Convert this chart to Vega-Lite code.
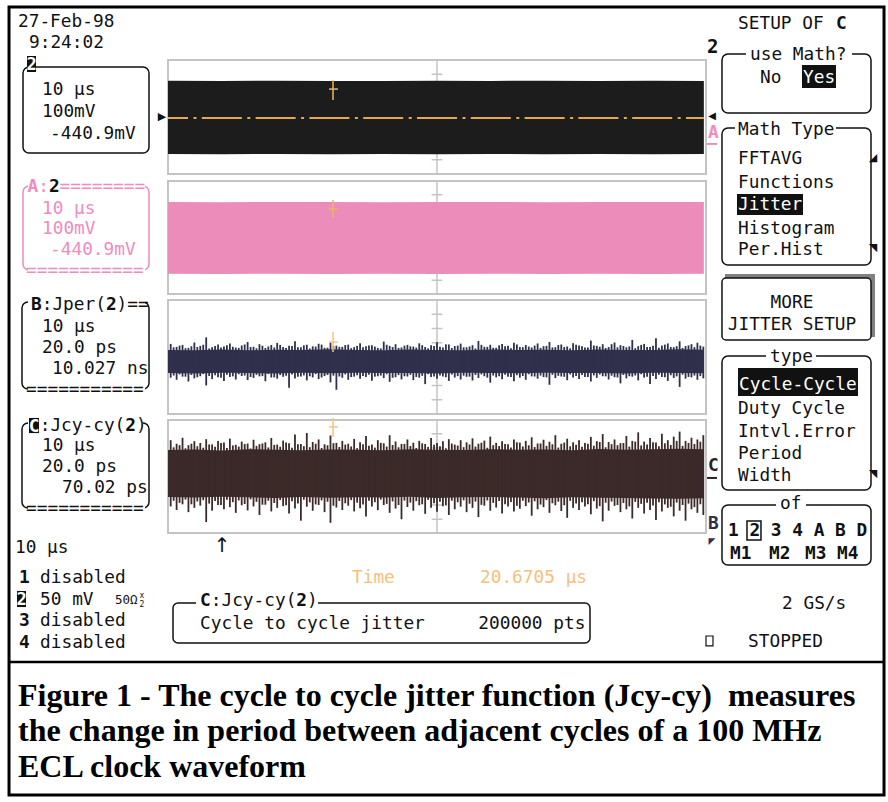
{
"$schema": "https://vega.github.io/schema/vega-lite/v6.json",
"width": 888, "height": 802,
"autosize": {"type": "fit", "contains": "padding"},
"padding": 0,
"background": "white",
"config": {"view": {"stroke": null}, "axis": {"disable": true},
  "text": {"font": "DejaVu Sans Mono", "fontSize": 17.8, "align": "left", "baseline": "middle", "color": "#111111", "dy": 1}},
"data": {"values": [{}]},
"datasets": {
  "ticks": [{"a": -3}, {"a": -2}, {"a": -1}, {"a": 1}, {"a": 2}, {"a": 3}],
  "clock": [{"t":0,"hi":2.54,"lo":-2.6},{"t":10,"hi":2.52,"lo":-2.62},{"t":20,"hi":2.55,"lo":-2.59},{"t":30,"hi":2.53,"lo":-2.61},{"t":40,"hi":2.52,"lo":-2.6},{"t":50,"hi":2.54,"lo":-2.62},{"t":60,"hi":2.53,"lo":-2.6},{"t":70,"hi":2.55,"lo":-2.61},{"t":80,"hi":2.52,"lo":-2.6},{"t":90,"hi":2.54,"lo":-2.62},{"t":99.6,"hi":2.53,"lo":-2.6}],
  "mathA": [{"t":0,"hi":2.49,"lo":-2.55},{"t":10,"hi":2.48,"lo":-2.56},{"t":20,"hi":2.5,"lo":-2.54},{"t":30,"hi":2.49,"lo":-2.56},{"t":40,"hi":2.48,"lo":-2.55},{"t":50,"hi":2.5,"lo":-2.56},{"t":60,"hi":2.49,"lo":-2.54},{"t":70,"hi":2.48,"lo":-2.56},{"t":80,"hi":2.5,"lo":-2.55},{"t":90,"hi":2.49,"lo":-2.56},{"t":99.6,"hi":2.5,"lo":-2.55}],
  "jperCore": [{"t":0,"hi":0.5,"lo":-1.12},{"t":5,"hi":0.48,"lo":-1.15},{"t":10,"hi":0.53,"lo":-1.1},{"t":15,"hi":0.47,"lo":-1.13},{"t":20,"hi":0.51,"lo":-1.16},{"t":25,"hi":0.49,"lo":-1.11},{"t":30,"hi":0.54,"lo":-1.14},{"t":35,"hi":0.5,"lo":-1.1},{"t":40,"hi":0.47,"lo":-1.13},{"t":45,"hi":0.52,"lo":-1.12},{"t":50,"hi":0.5,"lo":-1.15},{"t":55,"hi":0.48,"lo":-1.11},{"t":60,"hi":0.53,"lo":-1.13},{"t":65,"hi":0.49,"lo":-1.14},{"t":70,"hi":0.51,"lo":-1.1},{"t":75,"hi":0.47,"lo":-1.13},{"t":80,"hi":0.52,"lo":-1.12},{"t":85,"hi":0.5,"lo":-1.15},{"t":90,"hi":0.49,"lo":-1.11},{"t":95,"hi":0.54,"lo":-1.13},{"t":99.6,"hi":0.51,"lo":-1.14}],
  "jcyCore": [{"t":0,"hi":1.86,"lo":-1.44},{"t":5,"hi":1.9,"lo":-1.48},{"t":10,"hi":1.83,"lo":-1.42},{"t":15,"hi":1.92,"lo":-1.46},{"t":20,"hi":1.87,"lo":-1.5},{"t":25,"hi":1.85,"lo":-1.43},{"t":30,"hi":1.9,"lo":-1.49},{"t":35,"hi":1.88,"lo":-1.45},{"t":40,"hi":1.84,"lo":-1.47},{"t":45,"hi":1.91,"lo":-1.42},{"t":50,"hi":1.87,"lo":-1.5},{"t":55,"hi":1.86,"lo":-1.46},{"t":60,"hi":1.92,"lo":-1.44},{"t":65,"hi":1.88,"lo":-1.48},{"t":70,"hi":1.9,"lo":-1.52},{"t":75,"hi":1.85,"lo":-1.46},{"t":80,"hi":1.93,"lo":-1.49},{"t":85,"hi":1.88,"lo":-1.51},{"t":90,"hi":1.91,"lo":-1.54},{"t":95,"hi":1.95,"lo":-1.56},{"t":99.6,"hi":1.92,"lo":-1.53}],
  "jper": [
{"t":0.5,"hi":0.92,"lo":-1.45},{"t":1.6,"hi":0.71,"lo":-1.6},{"t":2.7,"hi":0.85,"lo":-1.38},{"t":3.8,"hi":0.64,"lo":-1.72},{"t":4.9,"hi":1.02,"lo":-1.5},{"t":6.0,"hi":0.78,"lo":-1.35},{"t":7.1,"hi":1.38,"lo":-2.0},{"t":8.2,"hi":0.69,"lo":-1.55},{"t":9.3,"hi":0.88,"lo":-1.42},{"t":10.4,"hi":0.74,"lo":-1.68},
{"t":11.5,"hi":0.95,"lo":-1.4},{"t":12.6,"hi":0.66,"lo":-1.58},{"t":13.7,"hi":0.81,"lo":-1.33},{"t":14.8,"hi":1.05,"lo":-1.62},{"t":15.9,"hi":0.72,"lo":-1.47},{"t":17.0,"hi":0.9,"lo":-1.36},{"t":18.1,"hi":0.63,"lo":-1.7},{"t":19.2,"hi":0.84,"lo":-1.44},{"t":20.3,"hi":0.99,"lo":-1.52},{"t":21.4,"hi":0.7,"lo":-1.39},
{"t":22.5,"hi":0.79,"lo":-2.15},{"t":23.6,"hi":1.1,"lo":-1.5},{"t":24.7,"hi":0.68,"lo":-1.37},{"t":25.8,"hi":0.86,"lo":-1.64},{"t":26.9,"hi":0.75,"lo":-1.43},{"t":28.0,"hi":0.93,"lo":-1.55},{"t":29.1,"hi":0.65,"lo":-1.34},{"t":30.2,"hi":1.0,"lo":-1.78},{"t":31.3,"hi":0.8,"lo":-2.3},{"t":32.4,"hi":0.71,"lo":-1.46},
{"t":33.5,"hi":0.87,"lo":-1.6},{"t":34.6,"hi":0.69,"lo":-1.38},{"t":35.7,"hi":0.97,"lo":-1.52},{"t":36.8,"hi":0.76,"lo":-1.4},{"t":37.9,"hi":0.83,"lo":-1.66},{"t":39.0,"hi":0.64,"lo":-1.35},{"t":40.1,"hi":1.08,"lo":-1.48},{"t":41.2,"hi":0.78,"lo":-1.74},{"t":42.3,"hi":0.9,"lo":-1.42},{"t":43.4,"hi":0.67,"lo":-1.57},
{"t":44.5,"hi":0.85,"lo":-1.37},{"t":45.6,"hi":0.73,"lo":-1.62},{"t":46.7,"hi":0.96,"lo":-1.45},{"t":47.8,"hi":0.7,"lo":-1.9},{"t":48.9,"hi":0.82,"lo":-1.4},{"t":50.0,"hi":1.03,"lo":-1.53},{"t":51.1,"hi":0.66,"lo":-1.36},{"t":52.2,"hi":0.88,"lo":-1.68},{"t":53.3,"hi":0.77,"lo":-1.44},{"t":54.4,"hi":0.94,"lo":-1.58},
{"t":55.5,"hi":0.68,"lo":-1.39},{"t":56.6,"hi":0.83,"lo":-1.65},{"t":57.7,"hi":1.12,"lo":-1.47},{"t":58.8,"hi":0.72,"lo":-1.35},{"t":59.9,"hi":0.86,"lo":-1.8},{"t":61.0,"hi":0.65,"lo":-1.43},{"t":62.1,"hi":0.91,"lo":-1.56},{"t":63.2,"hi":0.79,"lo":-1.38},{"t":64.3,"hi":1.0,"lo":-1.7},{"t":65.4,"hi":0.7,"lo":-1.45},
{"t":66.5,"hi":0.84,"lo":-1.6},{"t":67.6,"hi":0.67,"lo":-1.36},{"t":68.7,"hi":0.95,"lo":-1.52},{"t":69.8,"hi":0.76,"lo":-1.41},{"t":70.9,"hi":1.06,"lo":-1.95},{"t":72.0,"hi":0.69,"lo":-1.48},{"t":73.1,"hi":0.88,"lo":-1.37},{"t":74.2,"hi":0.74,"lo":-1.63},{"t":75.3,"hi":0.97,"lo":-1.44},{"t":76.4,"hi":0.81,"lo":-1.55},
{"t":77.5,"hi":0.66,"lo":-1.4},{"t":78.6,"hi":1.15,"lo":-1.72},{"t":79.7,"hi":0.78,"lo":-1.46},{"t":80.8,"hi":0.9,"lo":-1.35},{"t":81.9,"hi":0.7,"lo":-1.58},{"t":83.0,"hi":1.02,"lo":-1.42},{"t":84.1,"hi":0.83,"lo":-1.85},{"t":85.2,"hi":0.68,"lo":-1.5},{"t":86.3,"hi":1.2,"lo":-1.38},{"t":87.4,"hi":0.76,"lo":-1.64},
{"t":88.5,"hi":0.92,"lo":-1.45},{"t":89.6,"hi":0.71,"lo":-1.9},{"t":90.7,"hi":1.32,"lo":-1.55},{"t":91.8,"hi":0.8,"lo":-1.4},{"t":92.9,"hi":0.95,"lo":-1.68},{"t":94.0,"hi":0.69,"lo":-1.47},{"t":95.1,"hi":1.1,"lo":-2.1},{"t":96.2,"hi":0.77,"lo":-1.52},{"t":97.3,"hi":0.9,"lo":-1.43},{"t":98.4,"hi":1.0,"lo":-1.6},{"t":99.5,"hi":0.73,"lo":-1.5},
{"t":1.05,"hi":0.68,"lo":-1.3},{"t":2.15,"hi":0.8,"lo":-1.22},{"t":3.25,"hi":0.62,"lo":-1.38},{"t":4.35,"hi":0.75,"lo":-1.26},{"t":5.45,"hi":0.7,"lo":-1.42},{"t":6.55,"hi":0.86,"lo":-1.2},{"t":7.65,"hi":0.6,"lo":-1.33},{"t":8.75,"hi":0.78,"lo":-1.28},{"t":9.85,"hi":0.66,"lo":-1.45},{"t":10.95,"hi":0.83,"lo":-1.24},
{"t":12.05,"hi":0.72,"lo":-1.36},{"t":13.15,"hi":0.64,"lo":-1.21},{"t":14.25,"hi":0.88,"lo":-1.3},{"t":15.35,"hi":0.7,"lo":-1.4},{"t":16.45,"hi":0.61,"lo":-1.25},{"t":17.55,"hi":0.79,"lo":-1.34},{"t":18.65,"hi":0.74,"lo":-1.19},{"t":19.75,"hi":0.67,"lo":-1.43},{"t":20.85,"hi":0.85,"lo":-1.27},{"t":21.95,"hi":0.63,"lo":-1.32},
{"t":23.05,"hi":0.77,"lo":-1.23},{"t":24.15,"hi":0.69,"lo":-1.39},{"t":25.25,"hi":0.82,"lo":-1.29},{"t":26.35,"hi":0.6,"lo":-1.35},{"t":27.45,"hi":0.73,"lo":-1.2},{"t":28.55,"hi":0.87,"lo":-1.44},{"t":29.65,"hi":0.65,"lo":-1.26},{"t":30.75,"hi":0.76,"lo":-1.31},{"t":31.85,"hi":0.71,"lo":-1.37},{"t":32.95,"hi":0.84,"lo":-1.22},
{"t":34.05,"hi":0.62,"lo":-1.41},{"t":35.15,"hi":0.78,"lo":-1.28},{"t":36.25,"hi":0.68,"lo":-1.33},{"t":37.35,"hi":0.81,"lo":-1.24},{"t":38.45,"hi":0.73,"lo":-1.38},{"t":39.55,"hi":0.6,"lo":-1.3},{"t":40.65,"hi":0.86,"lo":-1.21},{"t":41.75,"hi":0.7,"lo":-1.46},{"t":42.85,"hi":0.64,"lo":-1.27},{"t":43.95,"hi":0.79,"lo":-1.35},
{"t":45.05,"hi":0.75,"lo":-1.25},{"t":46.15,"hi":0.66,"lo":-1.4},{"t":47.25,"hi":0.83,"lo":-1.32},{"t":48.35,"hi":0.61,"lo":-1.2},{"t":49.45,"hi":0.77,"lo":-1.36},{"t":50.55,"hi":0.72,"lo":-1.29},{"t":51.65,"hi":0.89,"lo":-1.42},{"t":52.75,"hi":0.63,"lo":-1.23},{"t":53.85,"hi":0.8,"lo":-1.34},{"t":54.95,"hi":0.68,"lo":-1.31},
{"t":56.05,"hi":0.74,"lo":-1.38},{"t":57.15,"hi":0.6,"lo":-1.26},{"t":58.25,"hi":0.85,"lo":-1.22},{"t":59.35,"hi":0.71,"lo":-1.45},{"t":60.45,"hi":0.65,"lo":-1.3},{"t":61.55,"hi":0.82,"lo":-1.35},{"t":62.65,"hi":0.76,"lo":-1.24},{"t":63.75,"hi":0.62,"lo":-1.4},{"t":64.85,"hi":0.88,"lo":-1.28},{"t":65.95,"hi":0.69,"lo":-1.33},
{"t":67.05,"hi":0.73,"lo":-1.21},{"t":68.15,"hi":0.8,"lo":-1.37},{"t":69.25,"hi":0.64,"lo":-1.3},{"t":70.35,"hi":0.78,"lo":-1.43},{"t":71.45,"hi":0.67,"lo":-1.25},{"t":72.55,"hi":0.84,"lo":-1.32},{"t":73.65,"hi":0.7,"lo":-1.39},{"t":74.75,"hi":0.61,"lo":-1.22},{"t":75.85,"hi":0.86,"lo":-1.34},{"t":76.95,"hi":0.75,"lo":-1.27},
{"t":78.05,"hi":0.66,"lo":-1.41},{"t":79.15,"hi":0.81,"lo":-1.29},{"t":80.25,"hi":0.72,"lo":-1.23},{"t":81.35,"hi":0.63,"lo":-1.36},{"t":82.45,"hi":0.9,"lo":-1.31},{"t":83.55,"hi":0.68,"lo":-1.44},{"t":84.65,"hi":0.77,"lo":-1.26},{"t":85.75,"hi":0.74,"lo":-1.35},{"t":86.85,"hi":0.62,"lo":-1.3},{"t":87.95,"hi":0.85,"lo":-1.21},
{"t":89.05,"hi":0.71,"lo":-1.38},{"t":90.15,"hi":0.79,"lo":-1.33},{"t":91.25,"hi":0.65,"lo":-1.25},{"t":92.35,"hi":0.87,"lo":-1.42},{"t":93.45,"hi":0.7,"lo":-1.28},{"t":94.55,"hi":0.76,"lo":-1.36},{"t":95.65,"hi":0.63,"lo":-1.24},{"t":96.75,"hi":0.82,"lo":-1.4},{"t":97.85,"hi":0.69,"lo":-1.3},{"t":98.95,"hi":0.8,"lo":-1.34}],
  "jcy": [
{"t":0.5,"hi":2.55,"lo":-2.1},{"t":1.6,"hi":2.3,"lo":-2.35},{"t":2.7,"hi":2.72,"lo":-1.95},{"t":3.8,"hi":2.2,"lo":-2.5},{"t":4.9,"hi":2.48,"lo":-2.2},{"t":6.0,"hi":2.35,"lo":-2.05},{"t":7.1,"hi":2.62,"lo":-3.2},{"t":8.2,"hi":2.25,"lo":-2.4},{"t":9.3,"hi":2.5,"lo":-2.0},{"t":10.4,"hi":2.38,"lo":-2.3},
{"t":11.5,"hi":2.66,"lo":-2.15},{"t":12.6,"hi":2.22,"lo":-2.55},{"t":13.7,"hi":2.45,"lo":-2.02},{"t":14.8,"hi":2.31,"lo":-2.38},{"t":15.9,"hi":2.58,"lo":-2.1},{"t":17.0,"hi":2.27,"lo":-2.7},{"t":18.1,"hi":2.4,"lo":-1.98},{"t":19.2,"hi":2.7,"lo":-2.45},{"t":20.3,"hi":2.24,"lo":-2.2},{"t":21.4,"hi":2.52,"lo":-2.08},
{"t":22.5,"hi":2.34,"lo":-2.6},{"t":23.6,"hi":2.95,"lo":-2.25},{"t":24.7,"hi":2.28,"lo":-3.1},{"t":25.8,"hi":3.05,"lo":-2.12},{"t":26.9,"hi":2.42,"lo":-2.4},{"t":28.0,"hi":2.6,"lo":-2.0},{"t":29.1,"hi":2.26,"lo":-2.5},{"t":30.2,"hi":2.88,"lo":-3.25},{"t":31.3,"hi":2.36,"lo":-2.18},{"t":32.4,"hi":2.5,"lo":-2.35},
{"t":33.5,"hi":2.3,"lo":-2.05},{"t":34.6,"hi":2.64,"lo":-2.45},{"t":35.7,"hi":2.4,"lo":-2.22},{"t":36.8,"hi":2.85,"lo":-2.8},{"t":37.9,"hi":2.25,"lo":-2.1},{"t":39.0,"hi":2.55,"lo":-2.36},{"t":40.1,"hi":2.33,"lo":-2.0},{"t":41.2,"hi":2.9,"lo":-2.55},{"t":42.3,"hi":2.46,"lo":-2.25},{"t":43.4,"hi":2.29,"lo":-3.0},
{"t":44.5,"hi":2.6,"lo":-2.14},{"t":45.6,"hi":2.37,"lo":-2.4},{"t":46.7,"hi":2.5,"lo":-2.02},{"t":47.8,"hi":2.28,"lo":-2.62},{"t":48.9,"hi":2.7,"lo":-2.2},{"t":50.0,"hi":2.35,"lo":-2.48},{"t":51.1,"hi":2.48,"lo":-2.08},{"t":52.2,"hi":2.62,"lo":-2.7},{"t":53.3,"hi":2.24,"lo":-2.3},{"t":54.4,"hi":2.55,"lo":-2.12},
{"t":55.5,"hi":2.4,"lo":-2.5},{"t":56.6,"hi":2.68,"lo":-2.2},{"t":57.7,"hi":2.3,"lo":-2.85},{"t":58.8,"hi":2.52,"lo":-2.05},{"t":59.9,"hi":2.8,"lo":-2.4},{"t":61.0,"hi":2.36,"lo":-2.18},{"t":62.1,"hi":2.47,"lo":-2.6},{"t":63.2,"hi":2.27,"lo":-2.1},{"t":64.3,"hi":2.6,"lo":-2.45},{"t":65.4,"hi":2.38,"lo":-2.26},
{"t":66.5,"hi":2.5,"lo":-2.08},{"t":67.6,"hi":2.75,"lo":-2.75},{"t":68.7,"hi":2.32,"lo":-2.3},{"t":69.8,"hi":2.58,"lo":-2.15},{"t":70.9,"hi":2.44,"lo":-2.55},{"t":72.0,"hi":2.9,"lo":-2.02},{"t":73.1,"hi":2.3,"lo":-2.42},{"t":74.2,"hi":2.65,"lo":-2.9},{"t":75.3,"hi":2.4,"lo":-2.2},{"t":76.4,"hi":2.55,"lo":-2.35},
{"t":77.5,"hi":2.35,"lo":-2.1},{"t":78.6,"hi":2.78,"lo":-2.65},{"t":79.7,"hi":2.48,"lo":-2.25},{"t":80.8,"hi":2.98,"lo":-3.15},{"t":81.9,"hi":2.42,"lo":-2.4},{"t":83.0,"hi":2.6,"lo":-2.06},{"t":84.1,"hi":2.34,"lo":-2.5},{"t":85.2,"hi":2.85,"lo":-2.3},{"t":86.3,"hi":2.5,"lo":-2.95},{"t":87.4,"hi":3.1,"lo":-2.2},
{"t":88.5,"hi":2.45,"lo":-2.6},{"t":89.6,"hi":2.7,"lo":-2.35},{"t":90.7,"hi":2.38,"lo":-3.05},{"t":91.8,"hi":3.0,"lo":-2.45},{"t":92.9,"hi":2.55,"lo":-2.2},{"t":94.0,"hi":2.8,"lo":-2.8},{"t":95.1,"hi":3.15,"lo":-2.4},{"t":96.2,"hi":2.5,"lo":-3.1},{"t":97.3,"hi":2.72,"lo":-2.3},{"t":98.4,"hi":2.6,"lo":-2.55},{"t":99.5,"hi":2.9,"lo":-2.7},
{"t":1.05,"hi":2.05,"lo":-1.7},{"t":2.15,"hi":2.2,"lo":-1.85},{"t":3.25,"hi":1.98,"lo":-1.62},{"t":4.35,"hi":2.3,"lo":-1.95},{"t":5.45,"hi":2.12,"lo":-1.75},{"t":6.55,"hi":2.02,"lo":-1.66},{"t":7.65,"hi":2.25,"lo":-1.9},{"t":8.75,"hi":2.08,"lo":-1.72},{"t":9.85,"hi":2.35,"lo":-2.0},{"t":10.95,"hi":2.0,"lo":-1.64},
{"t":12.05,"hi":2.18,"lo":-1.8},{"t":13.15,"hi":2.1,"lo":-1.68},{"t":14.25,"hi":2.28,"lo":-1.93},{"t":15.35,"hi":1.97,"lo":-1.6},{"t":16.45,"hi":2.15,"lo":-1.78},{"t":17.55,"hi":2.32,"lo":-1.98},{"t":18.65,"hi":2.04,"lo":-1.7},{"t":19.75,"hi":2.22,"lo":-1.86},{"t":20.85,"hi":2.09,"lo":-1.65},{"t":21.95,"hi":2.38,"lo":-2.02},
{"t":23.05,"hi":2.01,"lo":-1.74},{"t":24.15,"hi":2.26,"lo":-1.9},{"t":25.25,"hi":2.13,"lo":-1.63},{"t":26.35,"hi":2.06,"lo":-1.82},{"t":27.45,"hi":2.3,"lo":-1.96},{"t":28.55,"hi":2.0,"lo":-1.68},{"t":29.65,"hi":2.19,"lo":-1.77},{"t":30.75,"hi":2.34,"lo":-2.05},{"t":31.85,"hi":2.07,"lo":-1.72},{"t":32.95,"hi":2.24,"lo":-1.88},
{"t":34.05,"hi":2.11,"lo":-1.66},{"t":35.15,"hi":1.99,"lo":-1.84},{"t":36.25,"hi":2.27,"lo":-1.97},{"t":37.35,"hi":2.16,"lo":-1.7},{"t":38.45,"hi":2.03,"lo":-1.8},{"t":39.55,"hi":2.36,"lo":-1.62},{"t":40.65,"hi":2.1,"lo":-1.92},{"t":41.75,"hi":2.21,"lo":-1.75},{"t":42.85,"hi":2.05,"lo":-2.0},{"t":43.95,"hi":2.29,"lo":-1.69},
{"t":45.05,"hi":2.14,"lo":-1.83},{"t":46.15,"hi":2.0,"lo":-1.73},{"t":47.25,"hi":2.33,"lo":-1.95},{"t":48.35,"hi":2.08,"lo":-1.64},{"t":49.45,"hi":2.23,"lo":-1.87},{"t":50.55,"hi":2.12,"lo":-1.78},{"t":51.65,"hi":1.98,"lo":-2.03},{"t":52.75,"hi":2.31,"lo":-1.7},{"t":53.85,"hi":2.17,"lo":-1.81},{"t":54.95,"hi":2.06,"lo":-1.67},
{"t":56.05,"hi":2.25,"lo":-1.91},{"t":57.15,"hi":2.1,"lo":-1.76},{"t":58.25,"hi":2.37,"lo":-1.99},{"t":59.35,"hi":2.02,"lo":-1.68},{"t":60.45,"hi":2.2,"lo":-1.85},{"t":61.55,"hi":2.14,"lo":-1.72},{"t":62.65,"hi":2.28,"lo":-1.94},{"t":63.75,"hi":2.04,"lo":-1.79},{"t":64.85,"hi":2.4,"lo":-2.06},{"t":65.95,"hi":2.11,"lo":-1.7},
{"t":67.05,"hi":2.19,"lo":-1.82},{"t":68.15,"hi":2.07,"lo":-1.74},{"t":69.25,"hi":2.32,"lo":-1.97},{"t":70.35,"hi":2.15,"lo":-1.66},{"t":71.45,"hi":2.26,"lo":-1.88},{"t":72.55,"hi":2.03,"lo":-1.77},{"t":73.65,"hi":2.38,"lo":-2.02},{"t":74.75,"hi":2.12,"lo":-1.71},{"t":75.85,"hi":2.22,"lo":-1.9},{"t":76.95,"hi":2.09,"lo":-1.8},
{"t":78.05,"hi":2.3,"lo":-1.95},{"t":79.15,"hi":2.16,"lo":-1.73},{"t":80.25,"hi":2.42,"lo":-2.08},{"t":81.35,"hi":2.05,"lo":-1.84},{"t":82.45,"hi":2.27,"lo":-1.76},{"t":83.55,"hi":2.2,"lo":-2.0},{"t":84.65,"hi":2.35,"lo":-1.86},{"t":85.75,"hi":2.1,"lo":-2.1},{"t":86.85,"hi":2.45,"lo":-1.78},{"t":87.95,"hi":2.18,"lo":-1.92},
{"t":89.05,"hi":2.24,"lo":-1.85},{"t":90.15,"hi":2.4,"lo":-2.04},{"t":91.25,"hi":2.13,"lo":-1.8},{"t":92.35,"hi":2.33,"lo":-1.96},{"t":93.45,"hi":2.21,"lo":-2.12},{"t":94.55,"hi":2.5,"lo":-1.83},{"t":95.65,"hi":2.15,"lo":-2.0},{"t":96.75,"hi":2.36,"lo":-1.9},{"t":97.85,"hi":2.28,"lo":-2.15},{"t":98.95,"hi":2.44,"lo":-1.95}]
},
"layer": [
 {"layer": [
  {"mark": {"type": "rect", "fill": "transparent", "stroke": "#000", "strokeWidth": 3}, "encoding": {"x": {"datum": -29.55, "scale": {"domain": [-31.227, 133.829], "nice": false, "zero": false}}, "x2": {"datum": 133.09}, "y": {"datum": -3.72, "scale": {"domain": [-4.2105, 52.0702], "nice": false, "zero": false, "reverse": true}}, "y2": {"datum": 51.58}}},
  {"mark": {"type": "rule", "color": "#000", "strokeWidth": 2.5}, "encoding": {"x": {"datum": -29.55}, "x2": {"datum": 133.09}, "y": {"datum": 42.25}}},
  {"mark": {"type": "rect", "fill": "transparent", "stroke": "#c4c4c4", "strokeWidth": 2}, "encoding": {"x": {"datum": 0}, "x2": {"datum": 100}, "y": {"datum": 0}, "y2": {"datum": 8}}},
  {"mark": {"type": "rect", "fill": "transparent", "stroke": "#c4c4c4", "strokeWidth": 2}, "encoding": {"x": {"datum": 0}, "x2": {"datum": 100}, "y": {"datum": 8.49}, "y2": {"datum": 16.42}}},
  {"mark": {"type": "rect", "fill": "transparent", "stroke": "#c4c4c4", "strokeWidth": 2}, "encoding": {"x": {"datum": 0}, "x2": {"datum": 100}, "y": {"datum": 16.84}, "y2": {"datum": 24.84}}},
  {"mark": {"type": "rect", "fill": "transparent", "stroke": "#c4c4c4", "strokeWidth": 2}, "encoding": {"x": {"datum": 0}, "x2": {"datum": 100}, "y": {"datum": 25.26}, "y2": {"datum": 33.19}}},
  {"mark": {"type": "rule", "color": "#c4c4c4", "strokeWidth": 1.5}, "encoding": {"x": {"datum": 50}, "y": {"datum": 0}, "y2": {"datum": 8}}},
  {"mark": {"type": "rule", "color": "#c4c4c4", "strokeWidth": 1.5}, "encoding": {"x": {"datum": 50}, "y": {"datum": 8.49}, "y2": {"datum": 16.42}}},
  {"mark": {"type": "rule", "color": "#c4c4c4", "strokeWidth": 1.5}, "encoding": {"x": {"datum": 50}, "y": {"datum": 16.84}, "y2": {"datum": 24.84}}},
  {"mark": {"type": "rule", "color": "#c4c4c4", "strokeWidth": 1.5}, "encoding": {"x": {"datum": 50}, "y": {"datum": 25.26}, "y2": {"datum": 33.19}}},

  {"mark": {"type": "text", "text": "27-Feb-98"}, "encoding": {"x": {"datum": -27.88}, "y": {"datum": -2.74}}},
  {"mark": {"type": "text", "text": "9:24:02"}, "encoding": {"x": {"datum": -25.84}, "y": {"datum": -1.26}}},

  {"mark": {"type": "rect", "fill": "transparent", "stroke": "#111", "strokeWidth": 1.5, "cornerRadius": 6}, "encoding": {"x": {"datum": -26.95}, "x2": {"datum": -3.53}, "y": {"datum": 0.49}, "y2": {"datum": 6.53}}},
  {"mark": {"type": "rect", "fill": "#111", "strokeWidth": 0}, "encoding": {"x": {"datum": -26.21}, "x2": {"datum": -24.54}, "y": {"datum": -0.28}, "y2": {"datum": 0.84}}},
  {"mark": {"type": "text", "text": "2", "color": "white", "fontWeight": "bold", "align": "center", "fontSize": 17}, "encoding": {"x": {"datum": -25.37}, "y": {"datum": 0.28}}},
  {"mark": {"type": "text", "text": "10 μs"}, "encoding": {"x": {"datum": -23.42}, "y": {"datum": 2.04}}},
  {"mark": {"type": "text", "text": "100mV"}, "encoding": {"x": {"datum": -23.42}, "y": {"datum": 3.58}}},
  {"mark": {"type": "text", "text": "-440.9mV"}, "encoding": {"x": {"datum": -21.93}, "y": {"datum": 5.12}}},

  {"mark": {"type": "rect", "fill": "transparent", "stroke": "#ef8cbf", "strokeWidth": 1.5, "cornerRadius": 6}, "encoding": {"x": {"datum": -26.95}, "x2": {"datum": -3.53}, "y": {"datum": 8.84}, "y2": {"datum": 14.74}}},
  {"mark": {"type": "rect", "fill": "white", "strokeWidth": 0}, "encoding": {"x": {"datum": -26.02}, "x2": {"datum": -4.28}, "y": {"datum": 8.42}, "y2": {"datum": 9.26}}},
  {"mark": {"type": "rect", "fill": "white", "strokeWidth": 0}, "encoding": {"x": {"datum": -26.02}, "x2": {"datum": -4.28}, "y": {"datum": 14.25}, "y2": {"datum": 15.16}}},
  {"mark": {"type": "text", "text": "A", "color": "#ef8cbf", "fontWeight": "bold"}, "encoding": {"x": {"datum": -26.12}, "y": {"datum": 8.84}}},
  {"mark": {"type": "text", "text": ":", "color": "#ef8cbf"}, "encoding": {"x": {"datum": -24.13}, "y": {"datum": 8.84}}},
  {"mark": {"type": "text", "text": "2", "fontWeight": "bold"}, "encoding": {"x": {"datum": -22.14}, "y": {"datum": 8.84}}},
  {"mark": {"type": "text", "text": "========", "color": "#ef8cbf"}, "encoding": {"x": {"datum": -20.15}, "y": {"datum": 8.84}}},
  {"mark": {"type": "text", "text": "10 μs", "color": "#ef8cbf"}, "encoding": {"x": {"datum": -23.42}, "y": {"datum": 10.39}}},
  {"mark": {"type": "text", "text": "100mV", "color": "#ef8cbf"}, "encoding": {"x": {"datum": -23.42}, "y": {"datum": 11.79}}},
  {"mark": {"type": "text", "text": "-440.9mV", "color": "#ef8cbf"}, "encoding": {"x": {"datum": -21.93}, "y": {"datum": 13.26}}},
  {"mark": {"type": "text", "text": "===========", "color": "#ef8cbf"}, "encoding": {"x": {"datum": -26.39}, "y": {"datum": 14.74}}},

  {"mark": {"type": "rect", "fill": "transparent", "stroke": "#111", "strokeWidth": 1.5, "cornerRadius": 6}, "encoding": {"x": {"datum": -27.14}, "x2": {"datum": -3.53}, "y": {"datum": 16.98}, "y2": {"datum": 23.09}}},
  {"mark": {"type": "rect", "fill": "white", "strokeWidth": 0}, "encoding": {"x": {"datum": -26.02}, "x2": {"datum": -4.28}, "y": {"datum": 16.63}, "y2": {"datum": 17.54}}},
  {"mark": {"type": "rect", "fill": "white", "strokeWidth": 0}, "encoding": {"x": {"datum": -26.02}, "x2": {"datum": -4.28}, "y": {"datum": 22.67}, "y2": {"datum": 23.51}}},
  {"mark": {"type": "text", "text": "B", "fontWeight": "bold"}, "encoding": {"x": {"datum": -25.46}, "y": {"datum": 17.12}}},
  {"mark": {"type": "text", "text": ":Jper("}, "encoding": {"x": {"datum": -23.48}, "y": {"datum": 17.12}}},
  {"mark": {"type": "text", "text": "2", "fontWeight": "bold"}, "encoding": {"x": {"datum": -11.54}, "y": {"datum": 17.12}}},
  {"mark": {"type": "text", "text": ")=="}, "encoding": {"x": {"datum": -9.55}, "y": {"datum": 17.12}}},
  {"mark": {"type": "text", "text": "10 μs"}, "encoding": {"x": {"datum": -23.42}, "y": {"datum": 18.67}}},
  {"mark": {"type": "text", "text": "20.0 ps"}, "encoding": {"x": {"datum": -23.42}, "y": {"datum": 20.14}}},
  {"mark": {"type": "text", "text": "10.027 ns"}, "encoding": {"x": {"datum": -21.56}, "y": {"datum": 21.61}}},
  {"mark": {"type": "text", "text": "==========="}, "encoding": {"x": {"datum": -26.39}, "y": {"datum": 23.09}}},

  {"mark": {"type": "rect", "fill": "transparent", "stroke": "#111", "strokeWidth": 1.5, "cornerRadius": 6}, "encoding": {"x": {"datum": -27.14}, "x2": {"datum": -3.53}, "y": {"datum": 25.47}, "y2": {"datum": 31.44}}},
  {"mark": {"type": "rect", "fill": "white", "strokeWidth": 0}, "encoding": {"x": {"datum": -26.02}, "x2": {"datum": -4.65}, "y": {"datum": 25.05}, "y2": {"datum": 25.96}}},
  {"mark": {"type": "rect", "fill": "white", "strokeWidth": 0}, "encoding": {"x": {"datum": -26.02}, "x2": {"datum": -4.28}, "y": {"datum": 31.02}, "y2": {"datum": 31.86}}},
  {"mark": {"type": "rect", "fill": "#111", "strokeWidth": 0}, "encoding": {"x": {"datum": -25.84}, "x2": {"datum": -23.98}, "y": {"datum": 25.12}, "y2": {"datum": 26.18}}},
  {"mark": {"type": "text", "text": "C", "color": "white", "fontWeight": "bold", "align": "center"}, "encoding": {"x": {"datum": -24.91}, "y": {"datum": 25.65}}},
  {"mark": {"type": "text", "text": ":Jcy-cy("}, "encoding": {"x": {"datum": -23.85}, "y": {"datum": 25.61}}},
  {"mark": {"type": "text", "text": "2", "fontWeight": "bold"}, "encoding": {"x": {"datum": -7.94}, "y": {"datum": 25.61}}},
  {"mark": {"type": "text", "text": ")"}, "encoding": {"x": {"datum": -5.95}, "y": {"datum": 25.61}}},
  {"mark": {"type": "text", "text": "10 μs"}, "encoding": {"x": {"datum": -23.42}, "y": {"datum": 27.02}}},
  {"mark": {"type": "text", "text": "20.0 ps"}, "encoding": {"x": {"datum": -23.42}, "y": {"datum": 28.49}}},
  {"mark": {"type": "text", "text": "70.02 ps"}, "encoding": {"x": {"datum": -19.70}, "y": {"datum": 29.96}}},
  {"mark": {"type": "text", "text": "==========="}, "encoding": {"x": {"datum": -26.39}, "y": {"datum": 31.44}}},

  {"mark": {"type": "text", "text": "10 μs"}, "encoding": {"x": {"datum": -28.44}, "y": {"datum": 34.18}}},
  {"mark": {"type": "text", "text": "↑", "align": "center", "font": "DejaVu Sans", "fontSize": 20}, "encoding": {"x": {"datum": 10.04}, "y": {"datum": 34.04}}},

  {"mark": {"type": "text", "text": "1", "fontWeight": "bold"}, "encoding": {"x": {"datum": -27.70}, "y": {"datum": 36.28}}},
  {"mark": {"type": "text", "text": "disabled"}, "encoding": {"x": {"datum": -23.79}, "y": {"datum": 36.28}}},
  {"mark": {"type": "rect", "fill": "#111", "strokeWidth": 0}, "encoding": {"x": {"datum": -28.07}, "x2": {"datum": -26.39}, "y": {"datum": 37.26}, "y2": {"datum": 38.39}}},
  {"mark": {"type": "text", "text": "2", "color": "white", "fontWeight": "bold", "align": "center", "fontSize": 17}, "encoding": {"x": {"datum": -27.23}, "y": {"datum": 37.82}}},
  {"mark": {"type": "text", "text": "50 mV"}, "encoding": {"x": {"datum": -23.79}, "y": {"datum": 37.82}}},
  {"mark": {"type": "text", "text": "50Ω", "fontSize": 12.5}, "encoding": {"x": {"datum": -9.85}, "y": {"datum": 37.82}}},
  {"mark": {"type": "text", "text": "x", "fontSize": 8, "align": "center"}, "encoding": {"x": {"datum": -4.83}, "y": {"datum": 37.54}}},
  {"mark": {"type": "text", "text": "2", "fontSize": 8, "align": "center"}, "encoding": {"x": {"datum": -4.83}, "y": {"datum": 38.18}}},
  {"mark": {"type": "text", "text": "3", "fontWeight": "bold"}, "encoding": {"x": {"datum": -27.70}, "y": {"datum": 39.30}}},
  {"mark": {"type": "text", "text": "disabled"}, "encoding": {"x": {"datum": -23.79}, "y": {"datum": 39.30}}},
  {"mark": {"type": "text", "text": "4", "fontWeight": "bold"}, "encoding": {"x": {"datum": -27.70}, "y": {"datum": 40.84}}},
  {"mark": {"type": "text", "text": "disabled"}, "encoding": {"x": {"datum": -23.79}, "y": {"datum": 40.84}}},

  {"mark": {"type": "rect", "fill": "transparent", "stroke": "#111", "strokeWidth": 1.5, "cornerRadius": 5}, "encoding": {"x": {"datum": 0.93}, "x2": {"datum": 78.44}, "y": {"datum": 38.11}, "y2": {"datum": 40.91}}},
  {"mark": {"type": "rect", "fill": "white", "strokeWidth": 0}, "encoding": {"x": {"datum": 5.20}, "x2": {"datum": 27.88}, "y": {"datum": 37.54}, "y2": {"datum": 38.67}}},
  {"mark": {"type": "text", "text": "C", "fontWeight": "bold"}, "encoding": {"x": {"datum": 5.95}, "y": {"datum": 37.89}}},
  {"mark": {"type": "text", "text": ":Jcy-cy("}, "encoding": {"x": {"datum": 7.94}, "y": {"datum": 37.89}}},
  {"mark": {"type": "text", "text": "2", "fontWeight": "bold"}, "encoding": {"x": {"datum": 23.85}, "y": {"datum": 37.89}}},
  {"mark": {"type": "text", "text": ")"}, "encoding": {"x": {"datum": 25.84}, "y": {"datum": 37.89}}},
  {"mark": {"type": "text", "text": "Cycle to cycle jitter\u00a0\u00a0\u00a0\u00a0\u00a0200000 pts"}, "encoding": {"x": {"datum": 5.95}, "y": {"datum": 39.51}}},
  {"mark": {"type": "text", "text": "Time", "color": "#f5c07c"}, "encoding": {"x": {"datum": 34.20}, "y": {"datum": 36.28}}},
  {"mark": {"type": "text", "text": "20.6705 μs", "color": "#f5c07c"}, "encoding": {"x": {"datum": 57.99}, "y": {"datum": 36.28}}},

  {"mark": {"type": "text", "text": "SETUP OF"}, "encoding": {"x": {"datum": 105.95}, "y": {"datum": -2.60}}},
  {"mark": {"type": "text", "text": "C", "fontWeight": "bold"}, "encoding": {"x": {"datum": 124.16}, "y": {"datum": -2.60}}},
  {"mark": {"type": "text", "text": "2", "fontWeight": "bold", "fontSize": 19}, "encoding": {"x": {"datum": 100.19}, "y": {"datum": -0.98}}},
  {"mark": {"type": "rect", "fill": "transparent", "stroke": "#111", "strokeWidth": 1.5, "cornerRadius": 6}, "encoding": {"x": {"datum": 102.97}, "x2": {"datum": 130.67}, "y": {"datum": -0.42}, "y2": {"datum": 3.72}}},
  {"mark": {"type": "rect", "fill": "white", "strokeWidth": 0}, "encoding": {"x": {"datum": 107.43}, "x2": {"datum": 127.14}, "y": {"datum": -0.98}, "y2": {"datum": 0.14}}},
  {"mark": {"type": "text", "text": "use Math?"}, "encoding": {"x": {"datum": 108.18}, "y": {"datum": -0.42}}},
  {"mark": {"type": "text", "text": "No"}, "encoding": {"x": {"datum": 110.04}, "y": {"datum": 1.19}}},
  {"mark": {"type": "rect", "fill": "#111", "strokeWidth": 0}, "encoding": {"x": {"datum": 117.84}, "x2": {"datum": 124.16}, "y": {"datum": 0.35}, "y2": {"datum": 1.96}}},
  {"mark": {"type": "text", "text": "Yes", "color": "white"}, "encoding": {"x": {"datum": 118.03}, "y": {"datum": 1.19}}},
  {"mark": {"type": "text", "text": "▶", "align": "center", "font": "DejaVu Sans", "fontSize": 11}, "encoding": {"x": {"datum": -1.12}, "y": {"datum": 3.93}}},
  {"mark": {"type": "text", "text": "◀", "align": "center", "font": "DejaVu Sans", "fontSize": 10}, "encoding": {"x": {"datum": 101.12}, "y": {"datum": 3.86}}},
  {"mark": {"type": "text", "text": "A", "color": "#ef8cbf", "fontWeight": "bold"}, "encoding": {"x": {"datum": 100.37}, "y": {"datum": 5.05}}},
  {"mark": {"type": "rule", "color": "#ef8cbf", "strokeWidth": 2}, "encoding": {"x": {"datum": 100.19}, "x2": {"datum": 102.04}, "y": {"datum": 5.89}}},

  {"mark": {"type": "rect", "fill": "transparent", "stroke": "#111", "strokeWidth": 1.5, "cornerRadius": 6}, "encoding": {"x": {"datum": 102.97}, "x2": {"datum": 130.67}, "y": {"datum": 4.77}, "y2": {"datum": 14.39}}},
  {"mark": {"type": "rect", "fill": "white", "strokeWidth": 0}, "encoding": {"x": {"datum": 105.39}, "x2": {"datum": 124.16}, "y": {"datum": 4.21}, "y2": {"datum": 5.33}}},
  {"mark": {"type": "text", "text": "Math Type"}, "encoding": {"x": {"datum": 105.95}, "y": {"datum": 4.84}}},
  {"mark": {"type": "text", "text": "FFTAVG"}, "encoding": {"x": {"datum": 105.95}, "y": {"datum": 6.88}}},
  {"mark": {"type": "text", "text": "Functions"}, "encoding": {"x": {"datum": 105.95}, "y": {"datum": 8.56}}},
  {"mark": {"type": "rect", "fill": "#111", "strokeWidth": 0}, "encoding": {"x": {"datum": 105.76}, "x2": {"datum": 118.03}, "y": {"datum": 9.40}, "y2": {"datum": 10.88}}},
  {"mark": {"type": "text", "text": "Jitter", "color": "white"}, "encoding": {"x": {"datum": 105.95}, "y": {"datum": 10.11}}},
  {"mark": {"type": "text", "text": "Histogram"}, "encoding": {"x": {"datum": 105.95}, "y": {"datum": 11.79}}},
  {"mark": {"type": "text", "text": "Per.Hist"}, "encoding": {"x": {"datum": 105.95}, "y": {"datum": 13.26}}},
  {"mark": {"type": "text", "text": "◢", "align": "center", "font": "DejaVu Sans", "fontSize": 11}, "encoding": {"x": {"datum": 131.04}, "y": {"datum": 6.81}}},
  {"mark": {"type": "text", "text": "◥", "align": "center", "font": "DejaVu Sans", "fontSize": 11}, "encoding": {"x": {"datum": 131.04}, "y": {"datum": 13.12}}},

  {"mark": {"type": "rect", "fill": "#808080", "strokeWidth": 0}, "encoding": {"x": {"datum": 103.53}, "x2": {"datum": 131.41}, "y": {"datum": 15.02}, "y2": {"datum": 19.44}}},
  {"mark": {"type": "rect", "fill": "white", "stroke": "#111", "strokeWidth": 1.5, "cornerRadius": 4}, "encoding": {"x": {"datum": 102.97}, "x2": {"datum": 130.67}, "y": {"datum": 15.30}, "y2": {"datum": 19.65}}},
  {"mark": {"type": "text", "text": "MORE", "align": "center"}, "encoding": {"x": {"datum": 115.99}, "y": {"datum": 16.98}}},
  {"mark": {"type": "text", "text": "JITTER SETUP", "align": "center"}, "encoding": {"x": {"datum": 115.99}, "y": {"datum": 18.53}}},

  {"mark": {"type": "rect", "fill": "transparent", "stroke": "#111", "strokeWidth": 1.5, "cornerRadius": 6}, "encoding": {"x": {"datum": 102.97}, "x2": {"datum": 130.67}, "y": {"datum": 20.77}, "y2": {"datum": 30.18}}},
  {"mark": {"type": "rect", "fill": "white", "strokeWidth": 0}, "encoding": {"x": {"datum": 111.15}, "x2": {"datum": 120.45}, "y": {"datum": 20.21}, "y2": {"datum": 21.33}}},
  {"mark": {"type": "text", "text": "type"}, "encoding": {"x": {"datum": 111.90}, "y": {"datum": 20.77}}},
  {"mark": {"type": "rect", "fill": "#111", "strokeWidth": 0}, "encoding": {"x": {"datum": 105.95}, "x2": {"datum": 128.25}, "y": {"datum": 21.61}, "y2": {"datum": 23.58}}},
  {"mark": {"type": "text", "text": "Cycle-Cycle", "color": "white"}, "encoding": {"x": {"datum": 106.13}, "y": {"datum": 22.74}}},
  {"mark": {"type": "text", "text": "Duty Cycle"}, "encoding": {"x": {"datum": 105.95}, "y": {"datum": 24.42}}},
  {"mark": {"type": "text", "text": "Intvl.Error"}, "encoding": {"x": {"datum": 105.95}, "y": {"datum": 26.04}}},
  {"mark": {"type": "text", "text": "Period"}, "encoding": {"x": {"datum": 105.95}, "y": {"datum": 27.58}}},
  {"mark": {"type": "text", "text": "Width"}, "encoding": {"x": {"datum": 105.95}, "y": {"datum": 29.12}}},
  {"mark": {"type": "text", "text": "◥", "align": "center", "font": "DejaVu Sans", "fontSize": 11}, "encoding": {"x": {"datum": 131.04}, "y": {"datum": 28.98}}},
  {"mark": {"type": "text", "text": "C", "fontWeight": "bold", "color": "#2a2222"}, "encoding": {"x": {"datum": 100.37}, "y": {"datum": 28.42}}},
  {"mark": {"type": "rule", "color": "#2a2222", "strokeWidth": 2}, "encoding": {"x": {"datum": 100.19}, "x2": {"datum": 102.04}, "y": {"datum": 29.33}}},
  {"mark": {"type": "text", "text": "B", "fontWeight": "bold", "color": "#30304c"}, "encoding": {"x": {"datum": 100.37}, "y": {"datum": 32.49}}},
  {"mark": {"type": "text", "text": "◤", "align": "center", "font": "DejaVu Sans", "fontSize": 9, "color": "#30304c"}, "encoding": {"x": {"datum": 101.12}, "y": {"datum": 33.68}}},

  {"mark": {"type": "rect", "fill": "transparent", "stroke": "#111", "strokeWidth": 1.5, "cornerRadius": 6}, "encoding": {"x": {"datum": 102.97}, "x2": {"datum": 130.67}, "y": {"datum": 31.23}, "y2": {"datum": 35.44}}},
  {"mark": {"type": "rect", "fill": "white", "strokeWidth": 0}, "encoding": {"x": {"datum": 113.01}, "x2": {"datum": 118.59}, "y": {"datum": 30.67}, "y2": {"datum": 31.72}}},
  {"mark": {"type": "text", "text": "of"}, "encoding": {"x": {"datum": 113.75}, "y": {"datum": 31.09}}},
  {"mark": {"type": "text", "text": "1 2 3 4 A B D", "fontWeight": "bold"}, "encoding": {"x": {"datum": 104.09}, "y": {"datum": 32.98}}},
  {"mark": {"type": "rect", "fill": "transparent", "stroke": "#111", "strokeWidth": 1.5}, "encoding": {"x": {"datum": 107.62}, "x2": {"datum": 110.22}, "y": {"datum": 32.35}, "y2": {"datum": 33.68}}},
  {"mark": {"type": "text", "text": "M1", "fontWeight": "bold"}, "encoding": {"x": {"datum": 104.46}, "y": {"datum": 34.60}}},
  {"mark": {"type": "text", "text": "M2", "fontWeight": "bold"}, "encoding": {"x": {"datum": 111.71}, "y": {"datum": 34.60}}},
  {"mark": {"type": "text", "text": "M3", "fontWeight": "bold"}, "encoding": {"x": {"datum": 118.40}, "y": {"datum": 34.60}}},
  {"mark": {"type": "text", "text": "M4", "fontWeight": "bold"}, "encoding": {"x": {"datum": 124.35}, "y": {"datum": 34.60}}},
  {"mark": {"type": "text", "text": "2 GS/s"}, "encoding": {"x": {"datum": 114.13}, "y": {"datum": 38.11}}},
  {"mark": {"type": "rect", "fill": "transparent", "stroke": "#111", "strokeWidth": 1.2}, "encoding": {"x": {"datum": 100.0}, "x2": {"datum": 101.30}, "y": {"datum": 40.42}, "y2": {"datum": 41.12}}},
  {"mark": {"type": "text", "text": "STOPPED"}, "encoding": {"x": {"datum": 107.81}, "y": {"datum": 40.77}}},

  {"mark": {"type": "text", "text": "Figure 1 - The cycle to cycle jitter function (Jcy-cy)\u00a0 measures", "font": "Liberation Serif", "fontWeight": "bold", "fontSize": 32, "baseline": "alphabetic", "dy": 0, "color": "#000"}, "encoding": {"x": {"datum": -27.88}, "y": {"datum": 45.30}}},
  {"mark": {"type": "text", "text": "the change in period between adjacent cycles of a 100 MHz", "font": "Liberation Serif", "fontWeight": "bold", "fontSize": 32, "baseline": "alphabetic", "dy": 0, "color": "#000"}, "encoding": {"x": {"datum": -27.88}, "y": {"datum": 47.82}}},
  {"mark": {"type": "text", "text": "ECL clock waveform", "font": "Liberation Serif", "fontWeight": "bold", "fontSize": 32, "baseline": "alphabetic", "dy": 0, "color": "#000"}, "encoding": {"x": {"datum": -27.88}, "y": {"datum": 50.35}}}
 ]},

 {"layer": [
  {"data": {"name": "ticks"}, "mark": {"type": "rule", "color": "#c4c4c4", "strokeWidth": 1.5}, "encoding": {"x": {"datum": 49}, "x2": {"datum": 51}, "y": {"field": "a", "type": "quantitative", "scale": {"domain": [-48.070, 8.2105], "nice": false, "zero": false}}}},
  {"data": {"name": "clock"}, "mark": {"type": "area", "color": "#1c1c1c"}, "encoding": {"x": {"field": "t", "type": "quantitative"}, "y": {"field": "hi", "type": "quantitative"}, "y2": {"field": "lo"}}}
 ]},
 {"layer": [
  {"data": {"name": "ticks"}, "mark": {"type": "rule", "color": "#c4c4c4", "strokeWidth": 1.5}, "encoding": {"x": {"datum": 49}, "x2": {"datum": 51}, "y": {"field": "a", "type": "quantitative", "scale": {"domain": [-39.614, 16.667], "nice": false, "zero": false}}}},
  {"data": {"name": "mathA"}, "mark": {"type": "area", "color": "#ec8cbb"}, "encoding": {"x": {"field": "t", "type": "quantitative"}, "y": {"field": "hi", "type": "quantitative"}, "y2": {"field": "lo"}}}
 ]},
 {"layer": [
  {"data": {"name": "ticks"}, "mark": {"type": "rule", "color": "#c4c4c4", "strokeWidth": 1.5}, "encoding": {"x": {"datum": 49}, "x2": {"datum": 51}, "y": {"field": "a", "type": "quantitative", "scale": {"domain": [-31.228, 25.053], "nice": false, "zero": false}}}},
  {"data": {"name": "jperCore"}, "mark": {"type": "area", "color": "#30304c"}, "encoding": {"x": {"field": "t", "type": "quantitative"}, "y": {"field": "hi", "type": "quantitative"}, "y2": {"field": "lo"}}},
  {"data": {"name": "jper"}, "mark": {"type": "rule", "color": "#30304c", "strokeWidth": 1.8}, "encoding": {"x": {"field": "t", "type": "quantitative"}, "y": {"field": "hi", "type": "quantitative"}, "y2": {"field": "lo"}}}
 ]},
 {"layer": [
  {"data": {"name": "ticks"}, "mark": {"type": "rule", "color": "#c4c4c4", "strokeWidth": 1.5}, "encoding": {"x": {"datum": 49}, "x2": {"datum": 51}, "y": {"field": "a", "type": "quantitative", "scale": {"domain": [-22.842, 33.439], "nice": false, "zero": false}}}},
  {"data": {"name": "jcyCore"}, "mark": {"type": "area", "color": "#3b2a29"}, "encoding": {"x": {"field": "t", "type": "quantitative"}, "y": {"field": "hi", "type": "quantitative"}, "y2": {"field": "lo"}}},
  {"data": {"name": "jcy"}, "mark": {"type": "rule", "color": "#3b2a29", "strokeWidth": 1.8}, "encoding": {"x": {"field": "t", "type": "quantitative"}, "y": {"field": "hi", "type": "quantitative"}, "y2": {"field": "lo"}}}
 ]},

 {"layer": [
  {"mark": {"type": "rule", "color": "#e6a84c", "strokeWidth": 2, "strokeDash": [40, 5.5, 3, 5.3], "strokeDashOffset": 20}, "encoding": {"x": {"datum": 0}, "x2": {"datum": 99.6}, "y": {"datum": 4.07, "scale": {"domain": [-4.2105, 52.0702], "nice": false, "zero": false, "reverse": true}}}},
  {"mark": {"type": "rule", "color": "#eeb45c", "strokeWidth": 1.5}, "encoding": {"x": {"datum": 30.67}, "y": {"datum": 1.40}, "y2": {"datum": 2.81}}},
  {"mark": {"type": "rule", "color": "#eeb45c", "strokeWidth": 1.5}, "encoding": {"x": {"datum": 29.93}, "x2": {"datum": 31.60}, "y": {"datum": 2.04}}},
  {"mark": {"type": "rule", "color": "#eeb45c", "strokeWidth": 1.5}, "encoding": {"x": {"datum": 30.67}, "y": {"datum": 9.82}, "y2": {"datum": 11.09}}},
  {"mark": {"type": "rule", "color": "#eeb45c", "strokeWidth": 1.5}, "encoding": {"x": {"datum": 29.93}, "x2": {"datum": 31.60}, "y": {"datum": 10.46}}},
  {"mark": {"type": "rule", "color": "#f2c484", "strokeWidth": 1.5}, "encoding": {"x": {"datum": 30.67}, "y": {"datum": 19.09}, "y2": {"datum": 20.49}}},
  {"mark": {"type": "rule", "color": "#f2c484", "strokeWidth": 1.5}, "encoding": {"x": {"datum": 29.93}, "x2": {"datum": 31.60}, "y": {"datum": 19.79}}},
  {"mark": {"type": "rule", "color": "#f2c484", "strokeWidth": 1.5}, "encoding": {"x": {"datum": 30.67}, "y": {"datum": 25.12}, "y2": {"datum": 26.46}}},
  {"mark": {"type": "rule", "color": "#f2c484", "strokeWidth": 1.5}, "encoding": {"x": {"datum": 29.93}, "x2": {"datum": 31.60}, "y": {"datum": 25.75}}}
 ]}
],
"resolve": {"scale": {"y": "independent"}}
}
